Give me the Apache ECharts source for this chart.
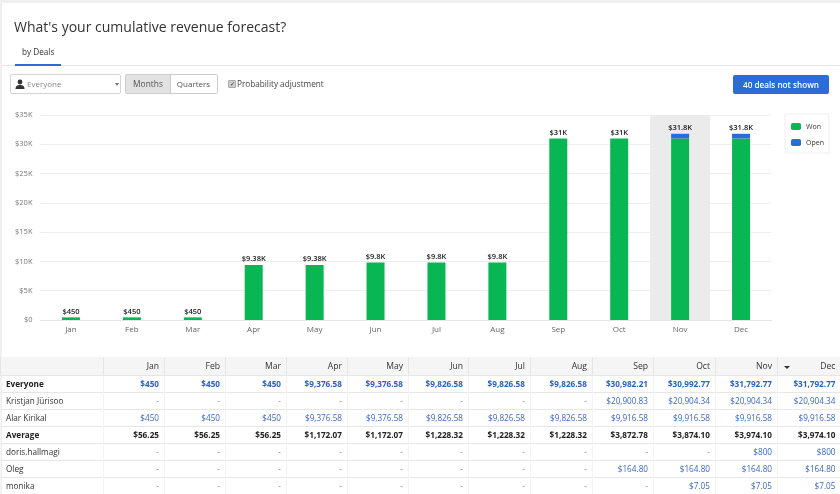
<!DOCTYPE html>
<html>
<head>
<meta charset="utf-8">
<script src="https://cdn.jsdelivr.net/npm/echarts@6/dist/echarts.min.js"></script>
<style>
  html, body { margin: 0; padding: 0; background: #fff; }
  body { width: 840px; height: 494px; overflow: hidden; position: relative; font-family: "Open Sans", sans-serif; color: #333; }
  .abs { position: absolute; white-space: nowrap; }
  #chart { position: absolute; left: 0; top: 0; width: 840px; height: 494px; }
  #frame { position: absolute; left: 0; top: 0; width: 840px; height: 3px; background: #efefef; }
  #frameLeft { position: absolute; left: 0; top: 0; width: 2px; height: 494px; background: #efefef; }
  #title { left: 14px; top: 15px; font-size: 14px; line-height: 24px; color: #333; }
  #tab { left: 22px; top: 45px; font-size: 8.2px; line-height: 14px; color: #333; }
  #tabLine { left: 15px; top: 64px; width: 46px; height: 2px; background: #2a6dd8; }
  #rule { left: 2px; top: 65px; width: 838px; height: 1px; background: #e8e8e8; }
  #owner { left: 10px; top: 74px; width: 109px; height: 18px; border: 1px solid #d4d4d4; border-radius: 2px; font-size: 8px; line-height: 18px; color: #888; }
  #owner span { position: absolute; left: 16px; }
  #owner svg { position: absolute; left: 4px; top: 4px; }
  #owner i { position: absolute; left: 104px; top: 8px; border: 2px solid transparent; border-top: 3px solid #777; }
  .btn { top: 74px; height: 18px; border: 1px solid #ccc; line-height: 18px; text-align: center; color: #555; box-sizing: content-box; }
  #months { left: 125px; width: 44px; background: #e2e2e2; border-radius: 2px 0 0 2px; font-size: 8.4px; }
  #quarters { left: 170px; width: 47px; border-left: 0; border-radius: 0 2px 2px 0; font-size: 8px; }
  #check { left: 228px; top: 80px; width: 6px; height: 6px; background: #ccc; border: 1px solid #aaa; border-radius: 1px; font-size: 6px; line-height: 6px; text-align: center; color: #333; }
  #checkText { left: 237px; top: 77px; font-size: 8.2px; line-height: 14px; color: #444; }
  #notShown { left: 733px; top: 75px; width: 96px; height: 19px; background: #2a6dd8; border-radius: 2px; color: #fff; font-size: 8.2px; font-weight: 600; line-height: 19px; text-align: center; }
  table { position: absolute; left: 0; top: 357px; width: 840px; border-collapse: collapse; table-layout: fixed; font-size: 8.2px; }
  th { height: 18px; padding: 0 5px; background: #f5f5f5; font-weight: 400; font-size: 8.6px; text-align: right; color: #333; border-left: 1px solid #e6e6e6; box-sizing: border-box; position: relative; }
  td { height: 17px; padding: 0 5px; text-align: right; border-top: 1px solid #e6e6e6; border-left: 1px solid #f4f4f4; color: #888; box-sizing: border-box; white-space: nowrap; }
  td:first-child { text-align: left; color: #333; }
  td.val { color: #3b68c4; }
  tr.bold td { font-weight: 700; color: #222; }
  tr.bold td.val { color: #2a5fc4; }
  tr.avg td { font-weight: 700; color: #222; }
  tr:last-child td { border-bottom: 1px solid #e6e6e6; }
  #sort { position: absolute; left: 6px; top: 9px; border: 3px solid transparent; border-top: 3px solid #333; }
</style>
</head>
<body>
<div id="chart"></div>
<div id="frame"></div>
<div id="frameLeft"></div>
<div class="abs" id="title">What's your cumulative revenue forecast?</div>
<div class="abs" id="tab">by Deals</div>
<div class="abs" id="rule"></div>
<div class="abs" id="tabLine"></div>
<div class="abs" id="owner">
  <svg width="10" height="10" viewBox="0 0 10 10"><circle cx="5" cy="3" r="2.4" fill="#333"/><path d="M0.5 10 C0.5 6.5 3 6 5 6 C7 6 9.5 6.5 9.5 10 Z" fill="#333"/></svg>
  <span>Everyone</span><i></i>
</div>
<div class="abs btn" id="months">Months</div>
<div class="abs btn" id="quarters">Quarters</div>
<div class="abs" id="check">✓</div>
<div class="abs" id="checkText">Probability adjustment</div>
<div class="abs" id="notShown">40 deals not shown</div>
<table id="grid"></table>

<script>
var months = ["Jan", "Feb", "Mar", "Apr", "May", "Jun", "Jul", "Aug", "Sep", "Oct", "Nov", "Dec"];
var wonValues = [450, 450, 450, 9376.58, 9376.58, 9826.58, 9826.58, 9826.58, 30982.21, 30992.77, 30992.77, 30992.77];
var openValues = [0, 0, 0, 0, 0, 0, 0, 0, 0, 0, 800, 800];
var totalLabels = ["$450", "$450", "$450", "$9.38K", "$9.38K", "$9.8K", "$9.8K", "$9.8K", "$31K", "$31K", "$31.8K", "$31.8K"];
var highlightValues = [null, null, null, null, null, null, null, null, null, null, 35000, null];
var yTicks = { "0": "$0", "5000": "$5K", "10000": "$10K", "15000": "$15K", "20000": "$20K", "25000": "$25K", "30000": "$30K", "35000": "$35K" };

var rowNames = ["Everyone", "Kristjan Jürisoo", "Alar Kirikal", "Average", "doris.hallmagi", "Oleg", "monika"];
var rowEveryone = ["$450", "$450", "$450", "$9,376.58", "$9,376.58", "$9,826.58", "$9,826.58", "$9,826.58", "$30,982.21", "$30,992.77", "$31,792.77", "$31,792.77"];
var rowKristjan = ["-", "-", "-", "-", "-", "-", "-", "-", "$20,900.83", "$20,904.34", "$20,904.34", "$20,904.34"];
var rowAlar = ["$450", "$450", "$450", "$9,376.58", "$9,376.58", "$9,826.58", "$9,826.58", "$9,826.58", "$9,916.58", "$9,916.58", "$9,916.58", "$9,916.58"];
var rowAverage = ["$56.25", "$56.25", "$56.25", "$1,172.07", "$1,172.07", "$1,228.32", "$1,228.32", "$1,228.32", "$3,872.78", "$3,874.10", "$3,974.10", "$3,974.10"];
var rowDoris = ["-", "-", "-", "-", "-", "-", "-", "-", "-", "-", "$800", "$800"];
var rowOleg = ["-", "-", "-", "-", "-", "-", "-", "-", "$164.80", "$164.80", "$164.80", "$164.80"];
var rowMonika = ["-", "-", "-", "-", "-", "-", "-", "-", "-", "$7.05", "$7.05", "$7.05"];
var rows = [rowEveryone, rowKristjan, rowAlar, rowAverage, rowDoris, rowOleg, rowMonika];
var columnWidths = [103, 61, 61, 61, 61, 61, 60, 62, 62, 61, 62, 62, 63];

// table under the chart
var html = "<colgroup>";
columnWidths.forEach(function (w) { html += '<col style="width:' + w + 'px">'; });
html += "</colgroup><tr><th></th>";
months.forEach(function (m) {
  html += "<th>" + (m === "Dec" ? '<i id="sort"></i>' : "") + m + "</th>";
});
html += "</tr>";
rows.forEach(function (row, i) {
  var cls = i === 0 ? "bold" : i === 3 ? "avg" : "";
  html += '<tr class="' + cls + '"><td>' + rowNames[i] + "</td>";
  row.forEach(function (v) {
    html += (v === "-" || i === 3 ? "<td>" : '<td class="val">') + v + "</td>";
  });
  html += "</tr>";
});
document.getElementById("grid").innerHTML = html;

var myChart = echarts.init(document.getElementById("chart"));
myChart.setOption({
  animation: false,
  textStyle: { fontFamily: "Open Sans" },
  grid: { left: 40.5, top: 115, width: 731, height: 205, containLabel: false },
  legend: {
    data: ["Won", "Open"],
    orient: "vertical",
    left: 785,
    top: 114,
    padding: [9, 5, 7, 6],
    itemWidth: 10,
    itemHeight: 7,
    itemGap: 9,
    borderColor: "#eeeeee",
    borderWidth: 1,
    textStyle: { fontSize: 7, color: "#333" }
  },
  xAxis: [
    {
      type: "category",
      data: months,
      axisLine: { lineStyle: { color: "#e6e6e6" } },
      axisTick: { show: false },
      axisLabel: { fontSize: 8, color: "#666", margin: 6 }
    },
    // hidden axis so the grey band has its own bar layout
    { type: "category", data: months, show: false }
  ],
  yAxis: {
    type: "value",
    min: 0,
    max: 35000,
    interval: 5000,
    axisLine: { show: false },
    axisTick: { show: false },
    splitLine: { lineStyle: { color: "#eeeeee" } },
    axisLabel: {
      fontSize: 7.5,
      color: "#777",
      margin: 8,
      formatter: function (v) { return yTicks[v]; }
    }
  },
  series: [
    {
      name: "highlight",
      type: "bar",
      xAxisIndex: 1,
      data: highlightValues,
      barWidth: 60,
      silent: true,
      itemStyle: { color: "#ebebeb" },
      z: 1
    },
    {
      name: "Won",
      type: "bar",
      stack: "total",
      data: wonValues,
      barWidth: 18,
      itemStyle: { color: "#08b754" },
      z: 2
    },
    {
      name: "Open",
      type: "bar",
      stack: "total",
      data: openValues,
      barWidth: 18,
      itemStyle: { color: "#2a6dd8" },
      z: 2,
      label: {
        show: true,
        position: "top",
        distance: 2,
        fontSize: 7.5,
        fontWeight: 600,
        color: "#222",
        formatter: function (p) { return totalLabels[p.dataIndex]; }
      }
    }
  ]
});
</script>
</body>
</html>
